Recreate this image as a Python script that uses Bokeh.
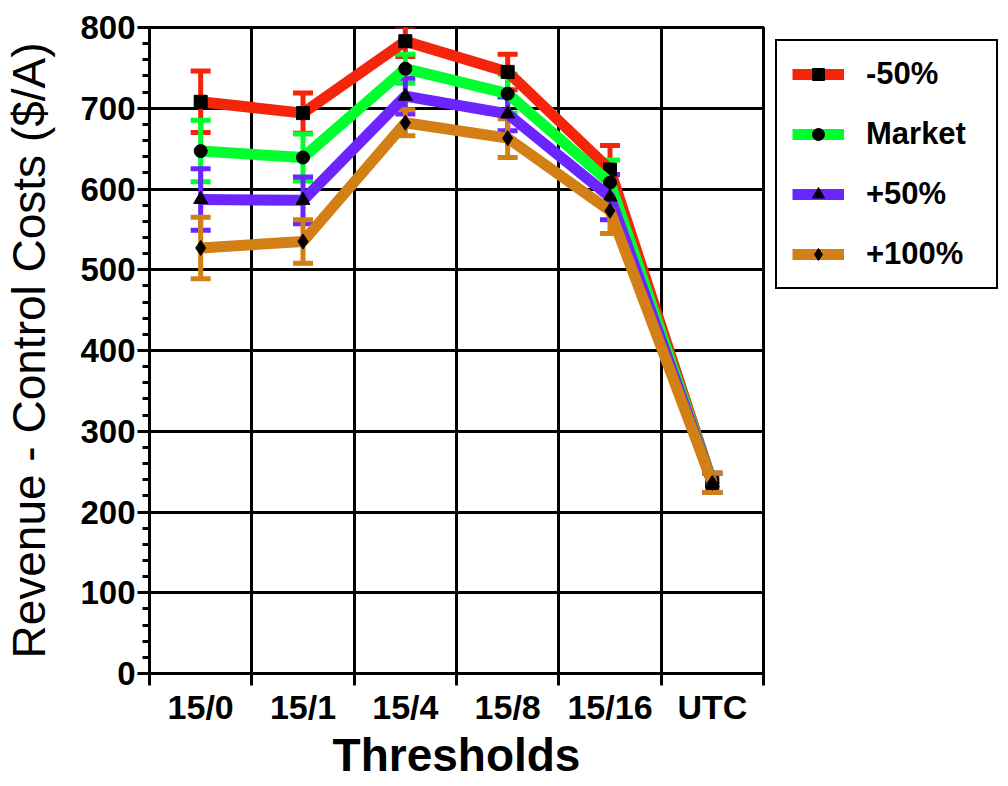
from bokeh.plotting import figure
from bokeh.models import (FixedTicker, Whisker, TeeHead, ColumnDataSource,
                          Legend, LegendItem)
from bokeh.embed import file_html
from bokeh.resources import INLINE

categories = ["15/0", "15/1", "15/4", "15/8", "15/16", "UTC"]

series_names = ["-50%", "Market", "+50%", "+100%"]
minus50 = [708, 694, 783, 745, 624, 236]
minus50_err = [38, 25, 19, 22, 30, 12]
market = [647, 639, 749, 718, 608, 236]
market_err = [38, 29, 18, 24, 28, 12]
plus50 = [587, 586, 715, 693, 590, 236]
plus50_err = [38, 29, 22, 21, 28, 12]
plus100 = [527, 535, 682, 663, 573, 236]
plus100_err = [38, 27, 16, 24, 28, 12]

y_ticks = [0, 100, 200, 300, 400, 500, 600, 700, 800]

colors = ["#F4250A", "#00FF2E", "#6B25FF", "#D28016"]
markers = ["square", "circle", "triangle", "diamond"]
marker_sizes = [13, 13, 14, 15]

BOLD = "'Liberation Sans', Arial, sans-serif"

x_centers = [i + 0.5 for i in range(len(categories))]

p = figure(frame_width=614, frame_height=646, x_range=(0, 6), y_range=(0, 800),
           output_backend="svg", toolbar_location=None,
           min_border_left=148, min_border_top=27, min_border_bottom=100,
           min_border_right=0)
p.background_fill_color = "white"
p.border_fill_color = "white"
p.outline_line_color = "black"
p.outline_line_width = 3

# axes
p.xaxis.ticker = FixedTicker(ticks=x_centers, minor_ticks=list(range(len(categories) + 1)))
p.xaxis.major_label_overrides = {x: c for x, c in zip(x_centers, categories)}
p.xaxis.major_tick_line_color = None
p.xaxis.major_tick_out = 12
p.xaxis.minor_tick_out = 12
p.xaxis.minor_tick_in = 0
p.xaxis.minor_tick_line_width = 3
p.xaxis.minor_tick_line_color = "black"
p.xaxis.axis_line_width = 3
p.xaxis.major_label_text_font = BOLD
p.xaxis.major_label_text_font_style = "bold"
p.xaxis.major_label_text_font_size = "34px"
p.xaxis.major_label_text_color = "black"
p.xaxis.major_label_standoff = 2
p.xaxis.axis_label = "Thresholds"
p.xaxis.axis_label_text_font = BOLD
p.xaxis.axis_label_text_font_style = "bold"
p.xaxis.axis_label_text_font_size = "46px"
p.xaxis.axis_label_text_color = "black"
p.xaxis.axis_label_standoff = 0

p.yaxis.ticker = FixedTicker(ticks=y_ticks, minor_ticks=list(range(0, 801, 20)))
p.yaxis.major_tick_out = 12
p.yaxis.major_tick_in = 0
p.yaxis.minor_tick_out = 7
p.yaxis.minor_tick_in = 0
p.yaxis.major_tick_line_width = 3
p.yaxis.minor_tick_line_width = 3
p.yaxis.minor_tick_line_color = "black"
p.yaxis.axis_line_width = 3
p.yaxis.major_label_text_font = BOLD
p.yaxis.major_label_text_font_style = "bold"
p.yaxis.major_label_text_font_size = "33px"
p.yaxis.major_label_text_color = "black"
p.yaxis.major_label_standoff = 2
p.yaxis.axis_label = "Revenue - Control Costs ($/A)"
p.yaxis.axis_label_text_font = BOLD
p.yaxis.axis_label_text_font_style = "normal"
p.yaxis.axis_label_text_font_size = "46px"
p.yaxis.axis_label_text_color = "black"
p.yaxis.axis_label_standoff = 22

# grid
p.xgrid.ticker = FixedTicker(ticks=list(range(len(categories) + 1)))
p.xgrid.grid_line_color = "black"
p.xgrid.grid_line_width = 3
p.ygrid.ticker = FixedTicker(ticks=y_ticks)
p.ygrid.grid_line_color = "black"
p.ygrid.grid_line_width = 3

all_vals = [minus50, market, plus50, plus100]
all_errs = [minus50_err, market_err, plus50_err, plus100_err]

items = []
for name, vals, errs, col, mk, ms in zip(series_names, all_vals, all_errs,
                                         colors, markers, marker_sizes):
    src = ColumnDataSource(dict(
        x=x_centers, y=vals,
        lo=[v - e for v, e in zip(vals, errs)],
        hi=[v + e for v, e in zip(vals, errs)]))
    w = Whisker(source=src, base="x", lower="lo", upper="hi",
                line_color=col, line_width=5,
                upper_head=TeeHead(size=20, line_color=col, line_width=5),
                lower_head=TeeHead(size=20, line_color=col, line_width=5))
    p.add_layout(w)
    ln = p.line("x", "y", source=src, line_color=col, line_width=11)
    sc = p.scatter("x", "y", source=src, marker=mk, size=ms,
                   fill_color="black", line_color="black")
    items.append(LegendItem(label=name, renderers=[ln, sc]))

legend = Legend(items=items, location="top_left")
legend.label_text_font = BOLD
legend.label_text_font_style = "bold"
legend.label_text_font_size = "31px"
legend.label_text_color = "black"
legend.glyph_width = 52
legend.glyph_height = 30
legend.label_height = 30
legend.label_width = 115
legend.label_standoff = 22
legend.spacing = 24
legend.padding = 15
legend.margin = 12
legend.border_line_color = "black"
legend.border_line_alpha = 1.0
legend.border_line_width = 2
legend.background_fill_color = "white"
legend.background_fill_alpha = 1.0
p.add_layout(legend, "right")

open("out.html", "w").write(file_html(p, INLINE))
